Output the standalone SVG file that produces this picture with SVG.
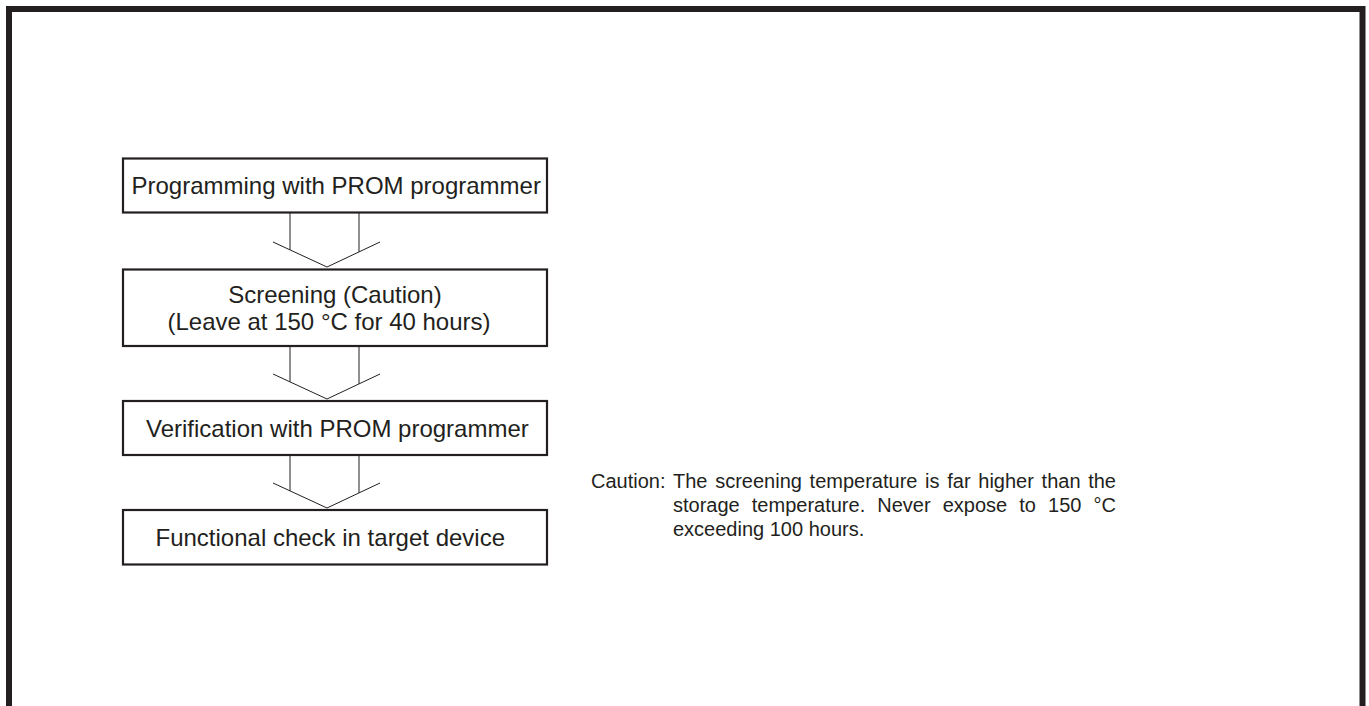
<svg xmlns="http://www.w3.org/2000/svg" width="1369" height="706" viewBox="0 0 1369 706">
<style>
.frame{fill:none;stroke:#231f20;stroke-width:6}
.box{fill:#fff;stroke:#231f20;stroke-width:2.2}
.t{font-family:"Liberation Sans",Arial,sans-serif;font-size:24px;fill:#231f20}
.c{font-family:"Liberation Sans",Arial,sans-serif;font-size:20px;fill:#231f20}
.conn{fill:none;stroke:#231f20;stroke-width:1}
</style>
<rect width="1369" height="706" fill="#fff"/>
<rect class="frame" x="9" y="9" width="1353.5" height="740"/>
<g id="connectors">
  <path class="conn" d="M290,213V249.9M359,213V251.9M273,242L327,267L380,242"/>
  <path class="conn" d="M290,346V381.9M359,346V383.9M273,374L327,399L380,374"/>
  <path class="conn" d="M290,455V490.9M359,455V492.9M273,483L327,508L380,483"/>
</g>
<g id="n1">
  <rect class="box" x="123" y="158.5" width="424" height="54"/>
  <text class="t" x="131.5" y="194">Programming with PROM programmer</text>
</g>
<g id="n2">
  <rect class="box" x="123" y="269.5" width="424" height="76.5"/>
  <text class="t" x="335" y="302.5" text-anchor="middle">Screening (Caution)</text>
  <text class="t" x="329" y="329.5" text-anchor="middle">(Leave at 150 °C for 40 hours)</text>
</g>
<g id="n3">
  <rect class="box" x="123" y="401" width="424" height="54"/>
  <text class="t" x="146" y="437">Verification with PROM programmer</text>
</g>
<g id="n4">
  <rect class="box" x="123" y="510" width="424" height="54.5"/>
  <text class="t" x="155.5" y="546">Functional check in target device</text>
</g>
<g id="caution">
  <text class="c" x="591" y="487.5">Caution:</text>
  <text class="c" y="487.5"><tspan x="673">The</tspan><tspan x="715.2">screening</tspan><tspan x="809.6">temperature</tspan><tspan x="925.1">is</tspan><tspan x="947.3">far</tspan><tspan x="978.3">higher</tspan><tspan x="1041.6">than</tspan><tspan x="1116" text-anchor="end">the</tspan></text>
  <text class="c" y="511.5"><tspan x="673">storage</tspan><tspan x="751.8">temperature.</tspan><tspan x="877.3">Never</tspan><tspan x="942.7">expose</tspan><tspan x="1019.3">to</tspan><tspan x="1048.1">150</tspan><tspan x="1116" text-anchor="end">°C</tspan></text>
  <text class="c" x="673" y="535.5">exceeding 100 hours.</text>
</g>
</svg>
